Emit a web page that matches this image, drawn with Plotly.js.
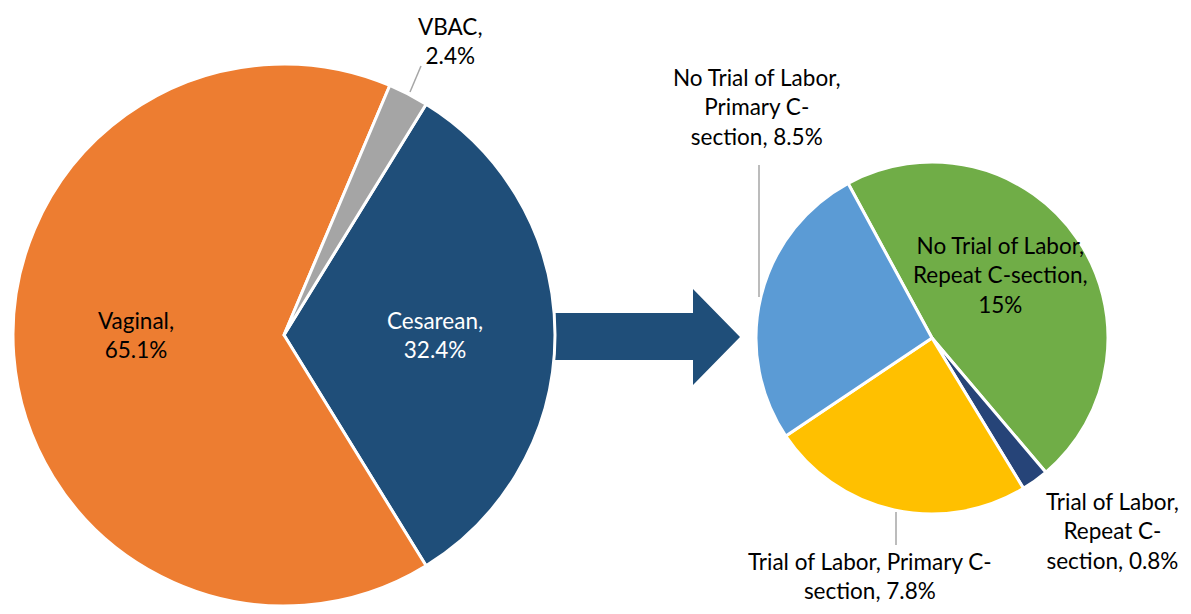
<!DOCTYPE html>
<html>
<head>
<meta charset="utf-8">
<script src="https://cdn.plot.ly/plotly-3.0.1.min.js"></script>
<style>html,body{margin:0;padding:0;background:#fff;}#chart{width:1191px;height:614px;}</style>
</head>
<body>
<div id="chart"></div>
<script>
// ---- Data ----
const deliveryLabels = ["Cesarean", "Vaginal", "VBAC"];
const deliveryValues = [32.4, 65.1, 2.4];
const deliveryColors = ["#1F4E79", "#ED7D31", "#A5A5A5"];

const cesareanLabels = [
  "No Trial of Labor,<br>Repeat C-section,",
  "Trial of Labor,<br>Repeat C-<br>section,",
  "Trial of Labor, Primary C-<br>section,",
  "No Trial of Labor,<br>Primary C-<br>section,"
];
const cesareanValueText = ["15%", "0.8%", "7.8%", "8.5%"];
const cesareanValues = [15, 0.8, 7.8, 8.5];
const cesareanColors = ["#70AD47", "#264478", "#FFC000", "#5B9BD5"];

// ---- Layout helpers (pixel -> paper) ----
const W = 1191, H = 614;
const X = px => px / W;
const Y = py => 1 - py / H;
const FONT = "Lato, 'Liberation Sans', sans-serif";

const leftTotal = deliveryValues.reduce((a, b) => a + b, 0);
// center the Cesarean slice at 3 o'clock
const leftRotation = 90 - (deliveryValues[0] / leftTotal) * 180;

const traces = [
  {
    type: "pie",
    labels: deliveryLabels,
    values: deliveryValues,
    sort: false,
    direction: "clockwise",
    rotation: leftRotation,
    marker: { colors: deliveryColors, line: { color: "#FFFFFF", width: 3 } },
    textinfo: "none",
    hoverinfo: "label+value",
    domain: { x: [X(13), X(555)], y: [Y(607), Y(63)] },
    showlegend: false
  },
  {
    type: "pie",
    labels: cesareanLabels.map(s => s.replace(/<br>/g, " ")),
    values: cesareanValues,
    sort: false,
    direction: "clockwise",
    rotation: -28.5,
    marker: { colors: cesareanColors, line: { color: "#FFFFFF", width: 3 } },
    textinfo: "none",
    hoverinfo: "label+value",
    domain: { x: [X(756), X(1108)], y: [Y(514), Y(162)] },
    showlegend: false
  }
];

function ann(text, x, y, color) {
  return {
    text: text, x: X(x), y: Y(y), xref: "paper", yref: "paper",
    showarrow: false, xanchor: "center", yanchor: "middle", align: "center",
    font: { family: FONT, size: 22.5, color: color || "#000000" }
  };
}

const annotations = [
  ann(deliveryLabels[1] + ",<br>" + deliveryValues[1] + "%", 136, 335),
  ann(deliveryLabels[0] + ",<br>" + deliveryValues[0] + "%", 435, 335, "#FFFFFF"),
  ann(deliveryLabels[2] + ",<br>" + deliveryValues[2] + "%", 450, 41),
  ann(cesareanLabels[0] + "<br>" + cesareanValueText[0], 1000, 275),
  ann(cesareanLabels[1] + " " + cesareanValueText[1], 1112, 531),
  ann(cesareanLabels[2] + " " + cesareanValueText[2], 870, 576),
  ann(cesareanLabels[3] + " " + cesareanValueText[3], 757, 107)
];

const shapes = [
  {
    type: "path", xref: "paper", yref: "paper", layer: "below",
    path: "M " + X(540) + "," + Y(313) + " L " + X(693) + "," + Y(313) + " L " + X(693) + "," + Y(289) +
          " L " + X(740) + "," + Y(337) + " L " + X(693) + "," + Y(385) + " L " + X(693) + "," + Y(360) +
          " L " + X(540) + "," + Y(360) + " Z",
    fillcolor: "#1F4E79", line: { width: 0 }
  },
  { type: "line", xref: "paper", yref: "paper", x0: X(410), y0: Y(92), x1: X(421), y1: Y(66), line: { color: "#A6A6A6", width: 1.5 } },
  { type: "line", xref: "paper", yref: "paper", x0: X(759), y0: Y(165), x1: X(759), y1: Y(297), line: { color: "#A6A6A6", width: 1.5 } },
  { type: "line", xref: "paper", yref: "paper", x0: X(896), y0: Y(512), x1: X(896), y1: Y(545), line: { color: "#A6A6A6", width: 1.5 } }
];

const layout = {
  width: W, height: H,
  margin: { l: 0, r: 0, t: 0, b: 0 },
  paper_bgcolor: "#FFFFFF", plot_bgcolor: "#FFFFFF",
  showlegend: false,
  annotations: annotations,
  shapes: shapes,
  font: { family: FONT }
};

Plotly.newPlot("chart", traces, layout, { displayModeBar: false, staticPlot: true });
</script>
</body>
</html>
